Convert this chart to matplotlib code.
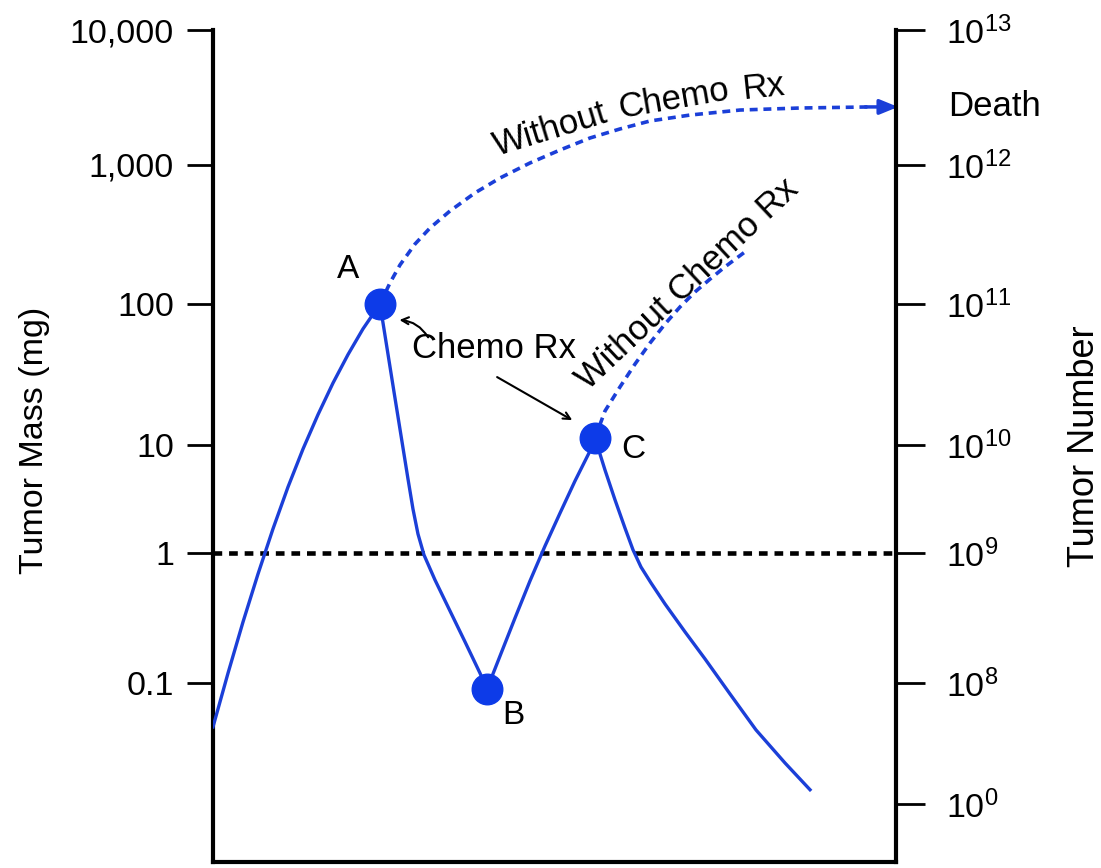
import numpy as np
import matplotlib.pyplot as plt

plt.rcParams['font.family'] = ['Liberation Sans', 'DejaVu Sans']

# TUMOR MASS (mg) OVER TIME (arbitrary time units, 0-100 across the axis)
COURSE_T = [0, 2.20, 4.39, 6.59, 8.78, 10.98, 13.18, 15.37, 17.57, 19.77, 21.96, 24.45,
            26.50, 28.55, 29.28, 30.01, 30.89, 32.50, 34.70, 36.90, 39.09, 40.12,
            42.02, 44.22, 46.41, 48.61, 50.81, 53.00, 55.20, 55.93,
            57.39, 58.86, 60.32, 61.49, 62.66, 64.13, 66.18, 69.11, 72.04, 75.70, 79.50, 83.75, 87.41]
COURSE_M = [0.0433, 0.119, 0.294, 0.689, 1.67, 4.08, 9.18, 16.4, 27.5, 43.8, 66.6, 100,
            23.8, 4.84, 2.55, 1.50, 0.966, 0.620, 0.358, 0.207, 0.119, 0.089,
            0.161, 0.316, 0.609, 1.16, 2.34, 4.64, 8.80, 11.2,
            5.87, 3.10, 1.70, 1.07, 0.780, 0.588, 0.405, 0.247, 0.153, 0.081, 0.0409, 0.0218, 0.0131]

# WITHOUT CHEMO BRANCHES
NOCHEMO_A_T = [24.45, 25.92, 27.38, 29.58, 31.77, 34.70, 38.36, 42.02, 46.41, 50.81,
               55.20, 59.59, 63.98, 69.84, 77.16, 85.94, 96.19]
NOCHEMO_A_M = [100, 142, 191, 270, 352, 467, 630, 806, 1035, 1291,
               1585, 1849, 2118, 2344, 2553, 2643, 2692]
NOCHEMO_C_T = [55.93, 57.39, 59.59, 61.79, 63.98, 66.18, 68.37, 70.57, 72.77, 74.96, 77.89]
NOCHEMO_C_M = [11.2, 17.4, 25.8, 37.5, 52.8, 72.1, 95.2, 122, 151, 185, 237]

# LABELLED POINTS
POINT_NAMES = ['A', 'B', 'C']
POINT_T = [24.45, 40.12, 55.93]
POINT_M = [100, 0.089, 11.2]

DETECT_LIMIT = 1.0
DEATH_M = 2692

# curved caption along the upper branch, one word at a time
ARC_WORDS = ['Without', 'Chemo', 'Rx']
ARC_T = [41.58, 59.59, 77.6]
ARC_M = [1167, 2228, 3084]
ARC_ROT = [17, 9.8, 6]

# AXIS TICKS
MASS_TICKS = [1e4, 1e3, 100, 10, 1, 0.1]
MASS_LABELS = ['10,000', '1,000', '100', '10', '1', '0.1']
NUMBER_TICKS = [1e4, 1e3, 100, 10, 1, 0.1, 0.01]
NUMBER_LABELS = [r'$\mathregular{10^{13}}$', r'$\mathregular{10^{12}}$', r'$\mathregular{10^{11}}$',
                 r'$\mathregular{10^{10}}$', r'$\mathregular{10^{9}}$', r'$\mathregular{10^{8}}$',
                 r'$\mathregular{10^{0}}$']

# HAND DRAWN DECADE SPACING OF THE ORIGINAL AXIS
LOG_KNOTS = [-3, -2, -1, 0, 1, 2, 3, 4]
U_KNOTS = [0, 125, 246, 376, 484, 625, 764, 899]

BLUE = '#1b3fd8'
DOT_BLUE = '#0d3be8'


def fwd(y):
    y = np.clip(np.asarray(y, dtype=float), 1e-12, None)
    return np.interp(np.log10(y), LOG_KNOTS, U_KNOTS)


def inv(u):
    return 10 ** np.interp(u, U_KNOTS, LOG_KNOTS)


fig = plt.figure(figsize=(11.01, 8.68), dpi=100)
ax = fig.add_axes([213 / 1101, 6 / 868, 683 / 1101, 832 / 868])
ax2 = ax.twinx()

for a in (ax, ax2):
    a.set_yscale('function', functions=(fwd, inv))
    a.set_ylim(0.00343, 1e4)
    a.set_xlim(0, 100)
    for s in a.spines.values():
        s.set_linewidth(3)
    a.spines['top'].set_visible(False)
ax.spines['right'].set_visible(False)
ax2.spines['left'].set_visible(False)
ax2.spines['bottom'].set_visible(False)
ax.set_xticks([])

ax.set_yticks(MASS_TICKS)
ax.set_yticklabels(MASS_LABELS)
ax.yaxis.set_minor_locator(plt.NullLocator())
ax.tick_params(axis='y', length=19, width=2, pad=9, labelsize=24.5)
ax.set_ylabel('Tumor Mass (mg)', fontsize=24.5)
ax.yaxis.set_label_coords(-0.238, 0.507)

ax2.set_yticks(NUMBER_TICKS)
ax2.set_yticklabels(NUMBER_LABELS)
ax2.yaxis.set_minor_locator(plt.NullLocator())
ax2.tick_params(axis='y', length=21, width=2, pad=15, labelsize=24.5)
ax2.set_ylabel('Tumor Number', fontsize=26)
ax2.yaxis.set_label_coords(1.251, 0.5)

# detection limit
ax.axhline(DETECT_LIMIT, color='black', lw=3.3, linestyle=(0, (1.9, 1.5)), zorder=2)

# course of treatment
ax.plot(COURSE_T, COURSE_M, color=BLUE, lw=2.4, zorder=3, solid_joinstyle='round')
ax.plot(NOCHEMO_A_T, NOCHEMO_A_M, color=BLUE, lw=2.6, linestyle=(0, (2.2, 1.6)), zorder=3)
ax.plot(NOCHEMO_C_T, NOCHEMO_C_M, color=BLUE, lw=2.6, linestyle=(0, (2.2, 1.6)), zorder=3)
ax.annotate('', xy=(100.3, DEATH_M), xytext=(95.5, DEATH_M),
            arrowprops=dict(arrowstyle='-|>,head_length=1.1,head_width=0.45',
                            color=BLUE, lw=2.5, shrinkA=0, shrinkB=0),
            annotation_clip=False, zorder=4)
ax.plot(POINT_T, POINT_M, 'o', color=DOT_BLUE, ms=22, zorder=5)

# point labels
ax.text(19.8, 176, POINT_NAMES[0], fontsize=24, ha='center', va='center')
ax.text(44.0, 0.0534, POINT_NAMES[1], fontsize=24, ha='center', va='center')
ax.text(61.6, 9.0, POINT_NAMES[2], fontsize=24, ha='center', va='center')

# annotations
for word, t, m, rot in zip(ARC_WORDS, ARC_T, ARC_M, ARC_ROT):
    ax.text(t, m, word, fontsize=25, rotation=rot, ha='left', va='baseline',
            rotation_mode='anchor')
ax.text(54.9, 24.2, 'Without Chemo Rx', fontsize=25, rotation=43.3,
        ha='left', va='baseline', rotation_mode='anchor')
ax.text(41.2, 48, 'Chemo Rx', fontsize=25, ha='center', va='center')
ax.annotate('', xy=(27.3, 77), xytext=(31.5, 58),
            arrowprops=dict(arrowstyle='->,head_length=0.5,head_width=0.25', color='black',
                            lw=1.5, shrinkA=0, shrinkB=0, connectionstyle='arc3,rad=0.25'))
ax.annotate('', xy=(52.6, 15.0), xytext=(41.6, 30.3),
            arrowprops=dict(arrowstyle='->,head_length=0.5,head_width=0.25', color='black',
                            lw=1.5, shrinkA=0, shrinkB=0))
ax.annotate('Death', xy=(1.077, DEATH_M), xycoords=('axes fraction', 'data'),
            fontsize=25, ha='left', va='center', annotation_clip=False)

fig.savefig('out.png', dpi=100)
